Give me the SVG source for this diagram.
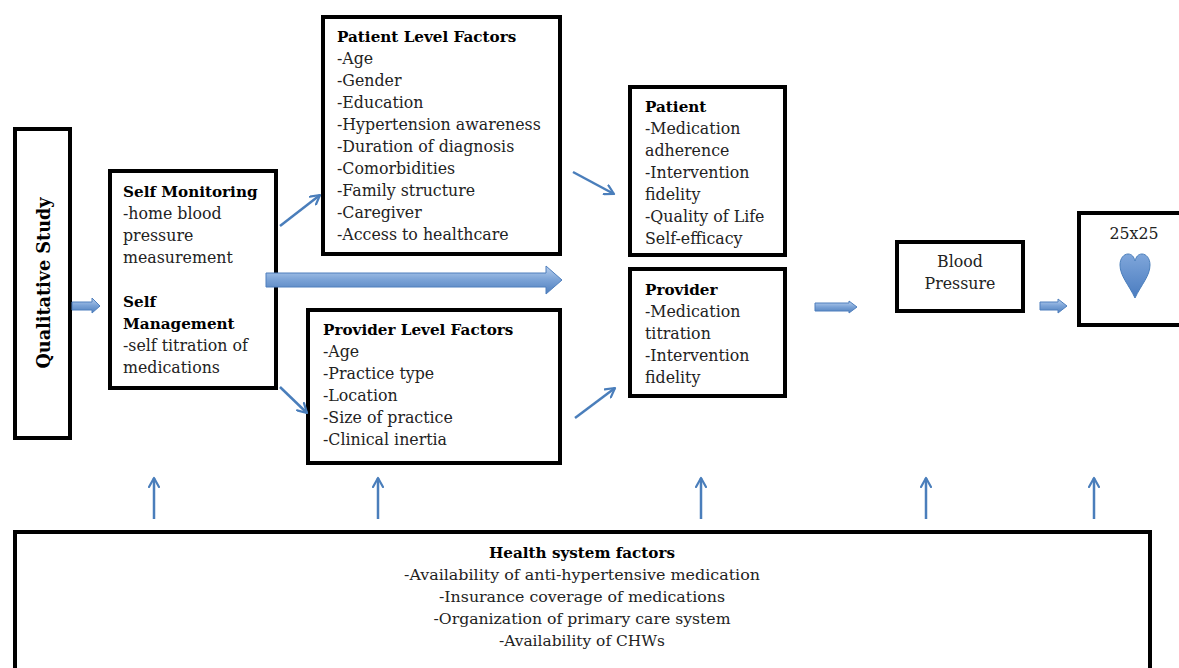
<svg xmlns="http://www.w3.org/2000/svg" width="1179" height="668" viewBox="0 0 1179 668">
<defs>
<linearGradient id="bg" x1="0" y1="0" x2="0" y2="1">
<stop offset="0" stop-color="#b9d0ee"/>
<stop offset="0.5" stop-color="#7aa2d6"/>
<stop offset="1" stop-color="#4f7fbd"/>
</linearGradient>
<linearGradient id="hg" x1="0" y1="0" x2="0" y2="1">
<stop offset="0" stop-color="#7fa6da"/>
<stop offset="1" stop-color="#4a7cc0"/>
</linearGradient>
<marker id="ah" viewBox="0 0 12 12" refX="10" refY="6" markerWidth="12" markerHeight="12" markerUnits="userSpaceOnUse" orient="auto">
<path d="M1,1 L10,6 L1,11" fill="none" stroke="#4a7ebb" stroke-width="2.2" stroke-linecap="round" stroke-linejoin="round"/>
</marker>
</defs>
<style>
.box{fill:#fff;stroke:#000;stroke-width:4}
.t{font-family:"DejaVu Serif","Liberation Serif",serif;font-size:15.8px;fill:#222}
.b{font-weight:bold;fill:#000;font-size:15.2px}
.c{text-anchor:middle}
.thin{stroke:#4a7ebb;stroke-width:2.5;fill:none;marker-end:url(#ah)}
.blk{fill:url(#bg);stroke:#4f7fbd;stroke-width:1}
.hs{font-family:"DejaVu Serif","Liberation Serif",serif;font-size:15.5px;fill:#222;text-anchor:middle}
</style>
<rect width="1179" height="668" fill="#fff"/>

<g id="qualitative">
<rect class="box" x="15" y="129" width="55" height="309"/>
<text class="t b c" style="font-size:19px" transform="translate(50,283) rotate(-90)" textLength="171" lengthAdjust="spacingAndGlyphs">Qualitative Study</text>
</g>

<g id="self">
<rect class="box" x="110" y="171" width="166" height="217"/>
<text class="t" x="123" y="197"><tspan class="b">Self Monitoring</tspan><tspan x="123" dy="22">-home blood</tspan><tspan x="123" dy="22">pressure</tspan><tspan x="123" dy="22">measurement</tspan><tspan x="123" dy="44" class="b">Self</tspan><tspan x="123" dy="22" class="b">Management</tspan><tspan x="123" dy="22">-self titration of</tspan><tspan x="123" dy="22">medications</tspan></text>
</g>

<g id="patient-level">
<rect class="box" x="323" y="17" width="237" height="237"/>
<text class="t" x="337" y="42"><tspan class="b">Patient Level Factors</tspan><tspan x="337" dy="22">-Age</tspan><tspan x="337" dy="22">-Gender</tspan><tspan x="337" dy="22">-Education</tspan><tspan x="337" dy="22">-Hypertension awareness</tspan><tspan x="337" dy="22">-Duration of diagnosis</tspan><tspan x="337" dy="22">-Comorbidities</tspan><tspan x="337" dy="22">-Family structure</tspan><tspan x="337" dy="22">-Caregiver</tspan><tspan x="337" dy="22">-Access to healthcare</tspan></text>
</g>

<g id="provider-level">
<rect class="box" x="308" y="310" width="252" height="153"/>
<text class="t" x="323" y="335"><tspan class="b">Provider Level Factors</tspan><tspan x="323" dy="22">-Age</tspan><tspan x="323" dy="22">-Practice type</tspan><tspan x="323" dy="22">-Location</tspan><tspan x="323" dy="22">-Size of practice</tspan><tspan x="323" dy="22">-Clinical inertia</tspan></text>
</g>

<g id="patient">
<rect class="box" x="630" y="87" width="155" height="168"/>
<text class="t" x="645" y="112"><tspan class="b">Patient</tspan><tspan x="645" dy="22">-Medication</tspan><tspan x="645" dy="22">adherence</tspan><tspan x="645" dy="22">-Intervention</tspan><tspan x="645" dy="22">fidelity</tspan><tspan x="645" dy="22">-Quality of Life</tspan><tspan x="645" dy="22">Self-efficacy</tspan></text>
</g>

<g id="provider">
<rect class="box" x="630" y="269" width="155" height="127"/>
<text class="t" x="645" y="295"><tspan class="b">Provider</tspan><tspan x="645" dy="22">-Medication</tspan><tspan x="645" dy="22">titration</tspan><tspan x="645" dy="22">-Intervention</tspan><tspan x="645" dy="22">fidelity</tspan></text>
</g>

<g id="blood-pressure">
<rect class="box" x="897" y="242" width="126" height="69"/>
<text class="t c" x="960" y="267"><tspan x="960">Blood</tspan><tspan x="960" dy="22">Pressure</tspan></text>
</g>

<g id="goal">
<rect class="box" x="1079" y="213" width="104" height="112"/>
<text class="t c" x="1134" y="239">25x25</text>
<path d="M1135,298 C1129,285 1120,276 1120,265 C1120,258 1124,254 1128,254 C1132,254 1134,257 1135,261 C1136,257 1138,254 1142,254 C1146,254 1150,258 1150,265 C1150,276 1141,285 1135,298 Z" fill="url(#hg)" stroke="#4a7ebb" stroke-width="1"/>
</g>

<g id="health-system">
<rect class="box" x="15" y="532" width="1135" height="150"/>
<text class="hs b" x="582" y="558" style="fill:#000" textLength="186" lengthAdjust="spacingAndGlyphs">Health system factors</text>
<text class="hs" x="582" y="580" textLength="356" lengthAdjust="spacingAndGlyphs">-Availability of anti-hypertensive medication</text>
<text class="hs" x="582" y="602" textLength="286" lengthAdjust="spacingAndGlyphs">-Insurance coverage of medications</text>
<text class="hs" x="582" y="624" textLength="297" lengthAdjust="spacingAndGlyphs">-Organization of primary care system</text>
<text class="hs" x="582" y="646" textLength="166" lengthAdjust="spacingAndGlyphs">-Availability of CHWs</text>
</g>

<g id="connectors">
<path class="blk" d="M72,302 H92 V298 L100,306 L92,313 V310 H72 Z"/>
<path class="blk" d="M266,273 H546 V266 L562,280 L546,294 V287 H266 Z"/>
<path class="blk" d="M815,303 H849 V301 L857,307 L849,313 V311 H815 Z"/>
<path class="blk" d="M1040,302 H1058 V299 L1067,306 L1058,313 V310 H1040 Z"/>
<line class="thin" x1="280" y1="226" x2="320" y2="195"/>
<line class="thin" x1="280" y1="387" x2="307" y2="413"/>
<line class="thin" x1="573" y1="172" x2="614" y2="194"/>
<line class="thin" x1="575" y1="418" x2="615" y2="388"/>
<line class="thin" x1="154" y1="519" x2="154" y2="478"/>
<line class="thin" x1="378" y1="519" x2="378" y2="478"/>
<line class="thin" x1="701" y1="519" x2="701" y2="478"/>
<line class="thin" x1="926" y1="519" x2="926" y2="478"/>
<line class="thin" x1="1094" y1="519" x2="1094" y2="478"/>
</g>
</svg>
